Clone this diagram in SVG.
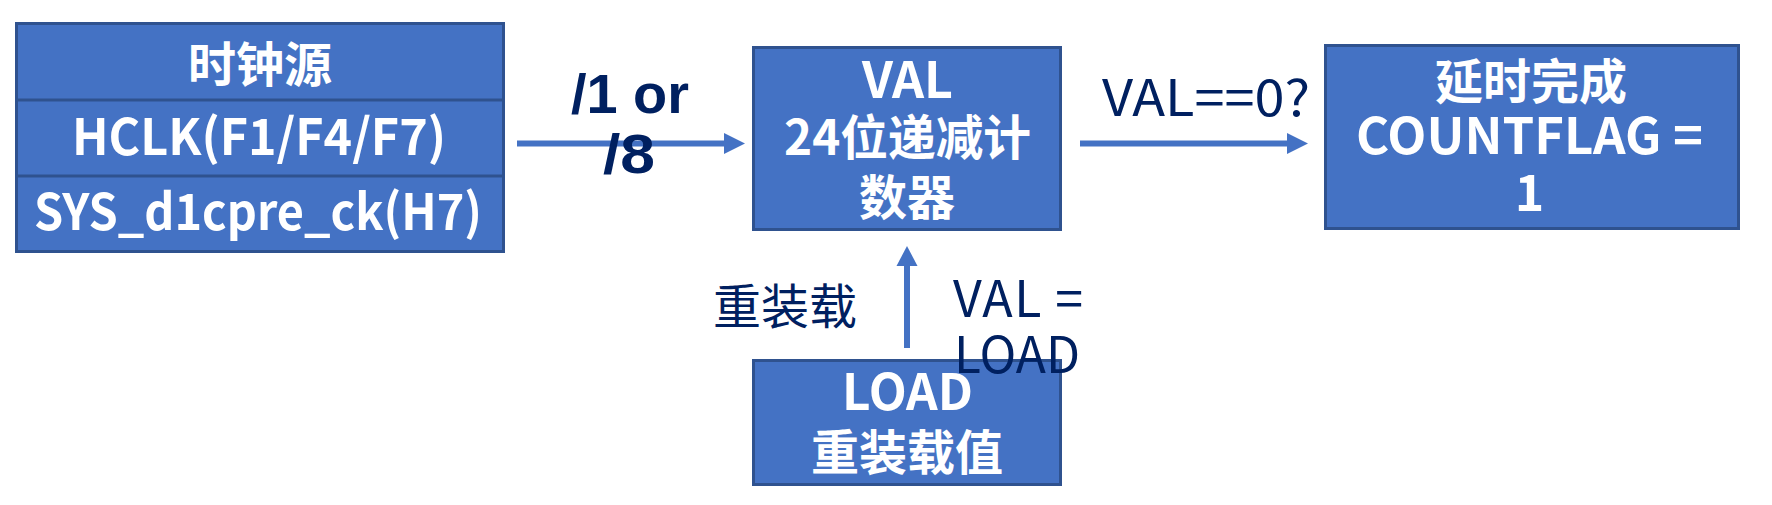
<svg xmlns="http://www.w3.org/2000/svg" width="1772" height="505" viewBox="0 0 1772 505">
  <style>
    .box { fill: #4472C4; stroke: #2F528F; stroke-width: 3; }
    .div { stroke: #2F528F; stroke-width: 3; }
    .bt { font-family: "Noto Sans CJK SC", "Liberation Sans", sans-serif; font-weight: bold; fill: #FFFFFF; text-anchor: middle; }
    .lbl { font-family: "Noto Sans CJK SC", "Liberation Sans", sans-serif; fill: #002060; }
    .lblb { font-family: "Liberation Sans", Arial, sans-serif; font-weight: bold; fill: #002060; text-anchor: middle; }
    .conn { stroke: #4472C4; stroke-width: 6; fill: none; }
    .head { fill: #4472C4; }
  </style>
  <rect width="1772" height="505" fill="#FFFFFF"/>

  <g id="clock-source">
    <rect class="box" x="16.5" y="23.5" width="487" height="228"/>
    <line class="div" x1="16.5" y1="100" x2="503.5" y2="100"/>
    <line class="div" x1="16.5" y1="176" x2="503.5" y2="176"/>
    <text class="bt" x="260" y="82" font-size="48">时钟源</text>
    <text class="bt" x="259" y="155" font-size="50" textLength="374" lengthAdjust="spacingAndGlyphs">HCLK(F1/F4/F7)</text>
    <text class="bt" x="258" y="230" font-size="50" textLength="448" lengthAdjust="spacingAndGlyphs">SYS_d1cpre_ck(H7)</text>
  </g>

  <g id="val-counter">
    <rect class="box" x="753.5" y="47.5" width="307" height="182"/>
    <text class="bt" x="907.5" y="98" font-size="50" textLength="91" lengthAdjust="spacingAndGlyphs">VAL</text>
    <text class="bt" x="907.5" y="155" font-size="48" textLength="247" lengthAdjust="spacingAndGlyphs">24位递减计</text>
    <text class="bt" x="907" y="215" font-size="48">数器</text>
  </g>

  <g id="delay-done">
    <rect class="box" x="1325.5" y="45.5" width="413" height="183"/>
    <text class="bt" x="1531" y="99" font-size="48">延时完成</text>
    <text class="bt" x="1529.5" y="154" font-size="50" textLength="347" lengthAdjust="spacingAndGlyphs">COUNTFLAG =</text>
    <text class="bt" x="1529.5" y="211" font-size="50">1</text>
  </g>

  <g id="load-value">
    <rect class="box" x="753.5" y="360.5" width="307" height="124"/>
    <text class="bt" x="907.5" y="410" font-size="50" textLength="131" lengthAdjust="spacingAndGlyphs">LOAD</text>
    <text class="bt" x="907" y="470" font-size="48">重装载值</text>
  </g>

  <g id="connectors">
    <line class="conn" x1="517" y1="143.5" x2="726" y2="143.5"/>
    <polygon class="head" points="724,133 745,143.5 724,154"/>
    <line class="conn" x1="1080" y1="143.5" x2="1289" y2="143.5"/>
    <polygon class="head" points="1287,133 1308,143.5 1287,154"/>
    <line class="conn" x1="907" y1="348" x2="907" y2="264"/>
    <polygon class="head" points="896.5,266 907,246 917.5,266"/>
  </g>

  <g id="labels">
    <text class="lblb" x="630" y="113" font-size="55" textLength="118" lengthAdjust="spacingAndGlyphs">/1 or</text>
    <text class="lblb" x="629" y="173" font-size="55" textLength="52" lengthAdjust="spacingAndGlyphs">/8</text>
    <text class="lbl" x="1102" y="116" font-size="50" textLength="208" lengthAdjust="spacingAndGlyphs">VAL==0?</text>
    <text class="lbl" x="785" y="324" font-size="48" text-anchor="middle">重装载</text>
    <text class="lbl" x="953" y="317" font-size="50" textLength="130" lengthAdjust="spacing">VAL =</text>
    <text class="lbl" x="954" y="373" font-size="50" textLength="126" lengthAdjust="spacingAndGlyphs">LOAD</text>
  </g>
</svg>
